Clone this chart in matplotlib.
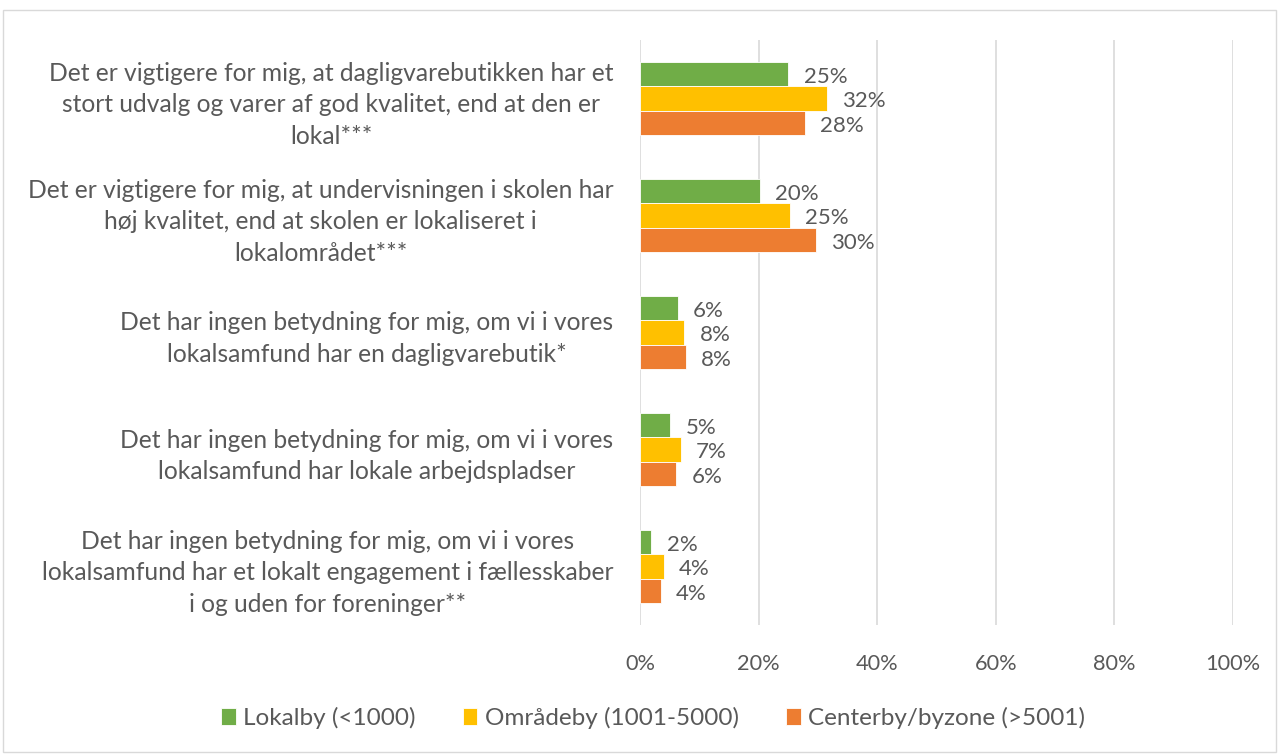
import numpy as np
import matplotlib.pyplot as plt
from matplotlib.patches import Rectangle

categories = [
    "Det er vigtigere for mig, at dagligvarebutikken har et\nstort udvalg og varer af god kvalitet, end at den er\nlokal***",
    "Det er vigtigere for mig, at undervisningen i skolen har\nhøj kvalitet, end at skolen er lokaliseret i\nlokalområdet***",
    "Det har ingen betydning for mig, om vi i vores\nlokalsamfund har en dagligvarebutik*",
    "Det har ingen betydning for mig, om vi i vores\nlokalsamfund har lokale arbejdspladser",
    "Det har ingen betydning for mig, om vi i vores\nlokalsamfund har et lokalt engagement i fællesskaber\ni og uden for foreninger**",
]
series = ["Lokalby (<1000)", "Områdeby (1001-5000)", "Centerby/byzone (>5001)"]
lokalby = [25.0, 20.2, 6.4, 5.1, 1.9]
omraadeby = [31.5, 25.3, 7.5, 6.9, 4.0]
centerby = [27.8, 29.7, 7.7, 6.1, 3.5]
labels = [["25%", "20%", "6%", "5%", "2%"],
          ["32%", "25%", "8%", "7%", "4%"],
          ["28%", "30%", "8%", "6%", "4%"]]
colors = ["#70AD47", "#FFC000", "#ED7D31"]
xticks = [0, 20, 40, 60, 80, 100]

plt.rcParams['font.family'] = ['Lato', 'DejaVu Sans']
txt = "#595959"

fig = plt.figure(figsize=(12.79, 7.54), dpi=100)
fig.patches.append(Rectangle((3/1279, 2/754), 1273/1279, 742/754, transform=fig.transFigure,
                             fill=False, edgecolor="#D9D9D9", linewidth=1))
ax = fig.add_axes([640/1279, 1-625/754, 593/1279, 585/754])

y = np.arange(len(categories))
h = 0.21
data = [lokalby, omraadeby, centerby]
for i, vals in enumerate(data):
    pos = y + (i - 1) * h
    ax.barh(pos, vals, height=h, color=colors[i], label=series[i],
            edgecolor="white", linewidth=0.6)
    for p, v, l in zip(pos, vals, labels[i]):
        ax.annotate(l, (v, p), xytext=(11, -2), textcoords="offset points",
                    va="center", ha="left", fontsize=16, color=txt)

ax.set_ylim(len(categories) - 0.5, -0.5)
ax.set_xlim(0, 100)
ax.set_yticks(y)
ax.set_yticklabels(categories, fontsize=17.7, color=txt, multialignment="center",
                   linespacing=1.47)
ax.set_xticks(xticks)
ax.set_xticklabels([f"{t}%" for t in xticks], fontsize=15.7, color=txt)
ax.tick_params(axis="both", length=0)
ax.tick_params(axis="y", pad=19)
ax.tick_params(axis="x", pad=21)
ax.grid(axis="x", color="#D9D9D9", linewidth=1.2)
ax.set_axisbelow(True)
for s in ax.spines.values():
    s.set_visible(False)

leg = fig.legend(loc="center", bbox_to_anchor=(653/1279, 1-718/754), ncol=3,
                 frameon=False, fontsize=17.5, handlelength=0.6, handleheight=0.75,
                 handletextpad=0.3, columnspacing=1.95, labelcolor=txt)

fig.savefig("out.png", dpi=100)
